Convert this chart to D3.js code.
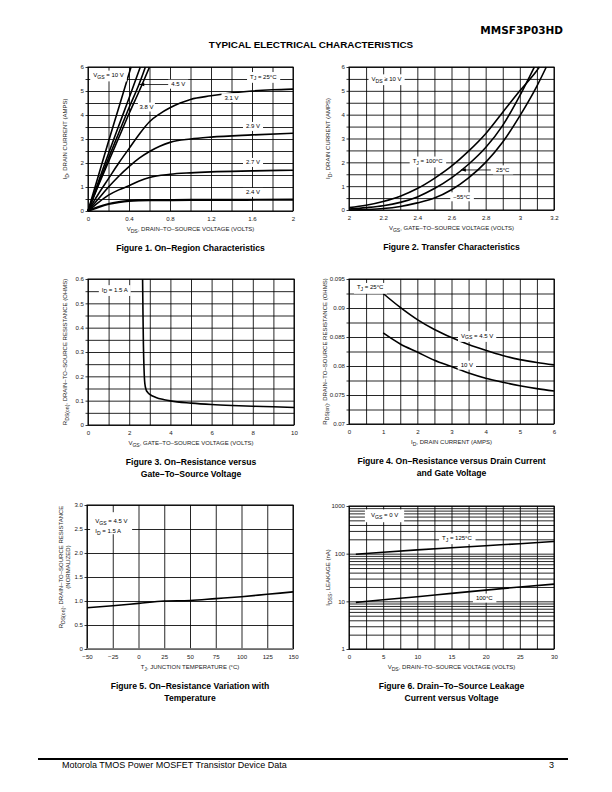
<!DOCTYPE html>
<html><head><meta charset="utf-8">
<script src="https://cdn.jsdelivr.net/npm/d3@7"></script>
<style>
html,body{margin:0;padding:0;background:#fff;}
svg{display:block;font-family:"Liberation Sans",Arial,Helvetica,sans-serif;}
</style></head><body>
<svg id="page" width="612" height="792"></svg>
<script>
// ================= DATA =================
// Figure 1 – On-Region Characteristics (VDS volts, ID amps)
const fig1XTicks = [0, 0.4, 0.8, 1.2, 1.6, 2];
const fig1XLabels = ["0", "0.4", "0.8", "1.2", "1.6", "2"];
const fig1YTicks = [0, 1, 2, 3, 4, 5, 6];
const fig1Vgs10 = [[0,0],[0.1,1.45],[0.2,2.9],[0.3,4.3],[0.42,6]];
const fig1Vgs6  = [[0,0],[0.1,1.2],[0.2,2.4],[0.3,3.55],[0.4,4.7],[0.51,6]];
const fig1Vgs45 = [[0,0],[0.1,1.1],[0.2,2.2],[0.3,3.25],[0.4,4.3],[0.5,5.3],[0.56,6]];
const fig1Vgs38 = [[0,0],[0.1,1.05],[0.2,2.05],[0.3,3.05],[0.4,4.05],[0.5,5.0],[0.6,6]];
const fig1Vgs31 = [[0,0],[0.1,0.7],[0.2,1.35],[0.3,2.0],[0.4,2.6],[0.5,3.2],[0.6,3.72],[0.7,4.05],[0.8,4.3],[0.9,4.5],[1.0,4.65],[1.2,4.8],[1.4,4.92],[1.6,5.0],[1.8,5.05],[2,5.08]];
const fig1Vgs29 = [[0,0],[0.1,0.5],[0.2,1.0],[0.3,1.45],[0.4,1.85],[0.5,2.2],[0.6,2.48],[0.7,2.7],[0.8,2.86],[1.0,3.0],[1.2,3.08],[1.6,3.17],[2,3.24]];
const fig1Vgs27 = [[0,0],[0.1,0.35],[0.2,0.66],[0.3,0.88],[0.4,1.05],[0.5,1.25],[0.6,1.4],[0.8,1.53],[1.0,1.59],[1.2,1.63],[1.6,1.67],[2,1.7]];
const fig1Vgs24 = [[0,0],[0.1,0.16],[0.2,0.29],[0.3,0.37],[0.4,0.42],[0.6,0.45],[1.0,0.46],[2,0.47]];

// Figure 2 – Transfer Characteristics (VGS volts, ID amps)
const fig2XTicks = [2, 2.2, 2.4, 2.6, 2.8, 3, 3.2];
const fig2XLabels = ["2", "2.2", "2.4", "2.6", "2.8", "3", "3.2"];
const fig2YTicks = [0, 1, 2, 3, 4, 5, 6];
const fig2T100 = [[2,0.1],[2.1,0.2],[2.2,0.36],[2.3,0.58],[2.4,0.9],[2.5,1.33],[2.6,1.84],[2.7,2.47],[2.8,3.2],[2.9,4.1],[3.0,5.0],[3.1,5.85],[3.115,6]];
const fig2T25  = [[2,0.04],[2.1,0.1],[2.2,0.18],[2.3,0.32],[2.4,0.55],[2.5,0.9],[2.6,1.35],[2.7,1.92],[2.8,2.62],[2.9,3.55],[3.0,4.8],[3.085,6]];
const fig2Tm55 = [[2,0],[2.1,0.02],[2.2,0.06],[2.3,0.15],[2.4,0.3],[2.5,0.5],[2.6,0.85],[2.7,1.35],[2.8,2.0],[2.9,2.85],[3.0,3.95],[3.1,5.2],[3.155,6]];

// Figure 3 – RDS(on) vs VGS (volts, ohms)
const fig3XTicks = [0, 2, 4, 6, 8, 10];
const fig3YTicks = [0, 0.1, 0.2, 0.3, 0.4, 0.5, 0.6];
const fig3YLabels = ["0", "0.1", "0.2", "0.3", "0.4", "0.5", "0.6"];
const fig3Rds = [[2.65,0.6],[2.67,0.45],[2.69,0.33],[2.72,0.23],[2.76,0.17],[2.82,0.145],[2.9,0.134],[3.0,0.126],[3.3,0.113],[3.7,0.104],[4,0.099],[5,0.09],[6,0.084],[7,0.08],[8,0.077],[9,0.075],[10,0.072]];

// Figure 4 – RDS(on) vs ID (amps, ohms)
const fig4XTicks = [0, 1, 2, 3, 4, 5, 6];
const fig4YTicks = [0.07, 0.075, 0.08, 0.085, 0.09, 0.095];
const fig4YLabels = ["0.07", "0.075", "0.08", "0.085", "0.09", "0.095"];
const fig4Vgs45 = [[1,0.0925],[1.5,0.0901],[2,0.088],[2.5,0.0863],[3,0.0849],[3.5,0.0837],[4,0.0827],[4.5,0.0818],[5,0.0811],[5.5,0.0806],[6,0.0802]];
const fig4Vgs10 = [[1,0.0857],[1.5,0.0838],[2,0.0824],[2.5,0.081],[3,0.0799],[3.5,0.0788],[4,0.0779],[4.5,0.0772],[5,0.0766],[5.5,0.0761],[6,0.0757]];

// Figure 5 – normalized RDS(on) vs TJ
const fig5XTicks = [-50, -25, 0, 25, 50, 75, 100, 125, 150];
const fig5XLabels = ["\u221250", "\u221225", "0", "25", "50", "75", "100", "125", "150"];
const fig5YTicks = [0, 0.5, 1, 1.5, 2, 2.5, 3];
const fig5YLabels = ["0", "0.5", "1.0", "1.5", "2.0", "2.5", "3.0"];
const fig5Temp = [-50, -25, 0, 25, 50, 75, 100, 125, 150];
const fig5Rnorm = [0.86, 0.9, 0.95, 1.0, 1.01, 1.05, 1.09, 1.14, 1.19];

// Figure 6 – IDSS leakage vs VDS (volts, nA, log)
const fig6XTicks = [0, 5, 10, 15, 20, 25, 30];
const fig6YTicks = [1, 10, 100, 1000];
const fig6Vds  = [1, 5, 10, 15, 20, 25, 30];
const fig6T125 = [97, 107, 120, 133, 147, 162, 180];
const fig6T100 = [9.5, 10.8, 12.5, 14.7, 17.2, 20, 23];

// ================= DRAWING =================
const svg = d3.select('#page');
const INK = '#000';

function rich(sel, parts, size) {
  let shifted = false;
  parts.forEach(pt => {
    const t = sel.append('tspan').text(pt[0]);
    if (pt[1] && !shifted) { t.attr('dy', size * 0.3).attr('font-size', size * 0.85); shifted = true; }
    else if (pt[1]) { t.attr('font-size', size * 0.85); }
    else if (!pt[1] && shifted) { t.attr('dy', -size * 0.3); shifted = false; }
  });
  return sel;
}

function boxedLabel(g, px, py, parts, opts = {}) {
  const size = opts.size || 6;
  const t = g.append('text').attr('x', px).attr('y', py)
    .attr('font-size', size).attr('fill', INK)
    .attr('text-anchor', opts.anchor || 'middle');
  rich(t, parts, size);
  const bb = t.node().getBBox();
  const padX = opts.padX != null ? opts.padX : 3, padY = opts.padY != null ? opts.padY : 1.5;
  g.insert('rect', () => t.node())
    .attr('x', bb.x - padX).attr('y', bb.y - padY)
    .attr('width', bb.width + 2 * padX).attr('height', bb.height + 2 * padY)
    .attr('fill', '#fff');
  return t;
}

function arrow(g, x1, y1, x2, y2) {
  g.append('line').attr('x1', x1).attr('y1', y1).attr('x2', x2).attr('y2', y2)
    .attr('stroke', INK).attr('stroke-width', 0.8);
  const a = Math.atan2(y2 - y1, x2 - x1), L = 5, W = 1.8;
  const p = [[x2, y2],
    [x2 - L * Math.cos(a) + W * Math.sin(a), y2 - L * Math.sin(a) - W * Math.cos(a)],
    [x2 - L * Math.cos(a) - W * Math.sin(a), y2 - L * Math.sin(a) + W * Math.cos(a)]];
  g.append('polygon').attr('points', p.map(d => d.join(',')).join(' ')).attr('fill', INK);
}

function panel(p) {
  const g = svg.append('g');
  const x = d3.scaleLinear().domain(p.xDomain).range([p.left, p.right]);
  const y = (p.ylog ? d3.scaleLog() : d3.scaleLinear()).domain(p.yDomain).range([p.bottom, p.top]);
  const H = p.bottom - p.top, W = p.right - p.left;
  const gx = g.append('g').attr('transform', `translate(0,${p.bottom})`)
    .call(d3.axisBottom(x).tickValues(p.xGrid).tickSize(-H).tickFormat(''));
  const gy = g.append('g').attr('transform', `translate(${p.left},0)`)
    .call(d3.axisLeft(y).tickValues(p.yGrid).tickSize(-W).tickFormat(''));
  [gx, gy].forEach(a => { a.select('.domain').remove(); a.selectAll('line').attr('stroke', INK).attr('stroke-width', 0.85); });
  const ty = g.append('g').attr('transform', `translate(${p.left},0)`)
    .call(d3.axisLeft(y).tickValues(p.yOuter || p.yGrid).tickSize(2.5).tickFormat(''));
  ty.select('.domain').remove(); ty.selectAll('line').attr('stroke', INK).attr('stroke-width', 0.8);
  g.append('rect').attr('x', p.left).attr('y', p.top).attr('width', W).attr('height', H)
    .attr('fill', 'none').attr('stroke', INK).attr('stroke-width', 1);
  const ax = g.append('g').attr('transform', `translate(0,${p.bottom})`)
    .call(d3.axisBottom(x).tickValues(p.xTicks).tickSize(0).tickPadding(6)
      .tickFormat((d, i) => p.xLabels ? p.xLabels[i] : String(d)));
  const ay = g.append('g').attr('transform', `translate(${p.left},0)`)
    .call(d3.axisLeft(y).tickValues(p.yTicks).tickSize(0).tickPadding(4)
      .tickFormat((d, i) => p.yLabels ? p.yLabels[i] : String(d)));
  [ax, ay].forEach(a => {
    a.select('.domain').remove();
    a.selectAll('text').attr('font-size', 6.1).attr('fill', '#222')
      .attr('font-family', '"Liberation Sans", Arial, sans-serif');
  });
  const xt = g.append('text').attr('x', (p.left + p.right) / 2).attr('y', p.bottom + 20)
    .attr('text-anchor', 'middle').attr('font-size', 6).attr('fill', '#222');
  rich(xt, p.xTitle, 6);
  (p.yTitles).forEach((yt, k) => {
    const cx = p.yTitleX[k], cy = (p.top + p.bottom) / 2 + (p.yTitleDy || 0);
    const t = g.append('text').attr('transform', `translate(${cx},${cy}) rotate(-90)`)
      .attr('text-anchor', 'middle').attr('font-size', 6).attr('fill', '#222');
    rich(t, yt, 6);
  });
  p.caption.forEach((c, k) => {
    g.append('text').attr('x', (p.left + p.right) / 2).attr('y', p.bottom + 40 + k * 11.5)
      .attr('text-anchor', 'middle').attr('font-size', 8.6).attr('font-weight', 'bold')
      .attr('fill', INK).text(c);
  });
  const curves = g.append('g');
  const labels = g.append('g');
  return { g, x, y, curves, labels };
}

function drawLine(P, pts, w) {
  const line = d3.line().x(d => P.x(d[0])).y(d => P.y(d[1])).curve(d3.curveMonotoneX);
  P.curves.append('path').attr('d', line(pts)).attr('fill', 'none')
    .attr('stroke', INK).attr('stroke-width', w || 1.6).attr('stroke-linejoin', 'round');
}

// header
svg.append('text').attr('x', 563).attr('y', 34).attr('text-anchor', 'end')
  .attr('font-family', '"DejaVu Sans", sans-serif').attr('font-weight', 'bold')
  .attr('font-size', 10.5).attr('fill', INK).text('MMSF3P03HD');
svg.append('text').attr('x', 311).attr('y', 48).attr('text-anchor', 'middle')
  .attr('font-weight', 'bold').attr('font-size', 9.9).attr('fill', INK)
  .text('TYPICAL ELECTRICAL CHARACTERISTICS');

// footer
svg.append('line').attr('x1', 38).attr('x2', 568).attr('y1', 759).attr('y2', 759)
  .attr('stroke', INK).attr('stroke-width', 1.8);
svg.append('text').attr('x', 62).attr('y', 768).attr('font-size', 9).attr('fill', INK)
  .text('Motorola TMOS Power MOSFET Transistor Device Data');
svg.append('text').attr('x', 554).attr('y', 768).attr('text-anchor', 'end').attr('font-size', 9).attr('fill', INK)
  .text('3');

const DASH = '\u2013';

// ---------- Figure 1
const P1 = panel({
  left: 88, right: 293, top: 67, bottom: 211,
  xDomain: [0, 2], yDomain: [0, 6],
  xGrid: d3.range(0, 2.0001, 0.2), yGrid: d3.range(0, 6.0001, 0.5),
  xTicks: fig1XTicks, xLabels: fig1XLabels, yTicks: fig1YTicks,
  xTitle: [['V'], ['DS', 1], [', DRAIN' + DASH + 'TO' + DASH + 'SOURCE VOLTAGE (VOLTS)']],
  yTitles: [[['I'], ['D', 1], [', DRAIN CURRENT (AMPS)']]], yTitleX: [67],
  caption: ['Figure 1. On' + DASH + 'Region Characteristics']
});
[fig1Vgs10, fig1Vgs6, fig1Vgs45, fig1Vgs38, fig1Vgs31, fig1Vgs29, fig1Vgs27].forEach(s => drawLine(P1, s));
drawLine(P1, fig1Vgs24, 2.2);
boxedLabel(P1.labels, P1.x(0.2), P1.y(5.58), [['V'], ['GS', 1], [' = 10 V']]);
boxedLabel(P1.labels, P1.x(1.71), P1.y(5.52), [['T'], ['J', 1], [' = 25\u00B0C']]);
arrow(P1.labels, P1.x(0.82), P1.y(5.27), P1.x(0.5), P1.y(5.27));
boxedLabel(P1.labels, P1.x(0.88), P1.y(5.2), [['4.5 V']]);
boxedLabel(P1.labels, P1.x(0.57), P1.y(4.25), [['3.8 V']], { padX: 1.5 });
boxedLabel(P1.labels, P1.x(1.4), P1.y(4.64), [['3.1 V']]);
boxedLabel(P1.labels, P1.x(1.61), P1.y(3.44), [['2.9 V']]);
boxedLabel(P1.labels, P1.x(1.61), P1.y(1.94), [['2.7 V']]);
boxedLabel(P1.labels, P1.x(1.61), P1.y(0.69), [['2.4 V']]);

// ---------- Figure 2
const P2 = panel({
  left: 349, right: 554, top: 67, bottom: 210,
  xDomain: [2, 3.2], yDomain: [0, 6],
  xGrid: d3.range(2, 3.2001, 0.1), yGrid: d3.range(0, 6.0001, 0.5),
  xTicks: fig2XTicks, xLabels: fig2XLabels, yTicks: fig2YTicks,
  xTitle: [['V'], ['GS', 1], [', GATE' + DASH + 'TO' + DASH + 'SOURCE VOLTAGE (VOLTS)']],
  yTitles: [[['I'], ['D', 1], [', DRAIN CURRENT (AMPS)']]], yTitleX: [330],
  caption: ['Figure 2. Transfer Characteristics']
});
[fig2T100, fig2T25, fig2Tm55].forEach(s => drawLine(P2, s));
boxedLabel(P2.labels, P2.x(2.22), P2.y(5.42), [['V'], ['DS', 1], [' \u2265 10 V']]);
boxedLabel(P2.labels, P2.x(2.46), P2.y(1.97), [['T'], ['J', 1], [' = 100\u00B0C']]);
arrow(P2.labels, P2.x(2.83), P2.y(1.68), P2.x(2.655), P2.y(1.68));
boxedLabel(P2.labels, P2.x(2.9), P2.y(1.6), [['25\u00B0C']]);
boxedLabel(P2.labels, P2.x(2.66), P2.y(0.47), [['\u221255\u00B0C']]);

// ---------- Figure 3
const P3 = panel({
  left: 88, right: 294, top: 279, bottom: 425,
  xDomain: [0, 10], yDomain: [0, 0.6],
  xGrid: d3.range(0, 10.001, 1), yGrid: d3.range(0, 0.6001, 0.05),
  xTicks: fig3XTicks, yTicks: fig3YTicks, yLabels: fig3YLabels,
  xTitle: [['V'], ['GS', 1], [', GATE' + DASH + 'TO' + DASH + 'SOURCE VOLTAGE (VOLTS)']],
  yTitles: [[['R'], ['DS(on)', 1], [', DRAIN' + DASH + 'TO' + DASH + 'SOURCE RESISTANCE (OHMS)']]], yTitleX: [67],
  caption: ['Figure 3. On' + DASH + 'Resistance versus', 'Gate' + DASH + 'To' + DASH + 'Source Voltage']
});
drawLine(P3, fig3Rds);
boxedLabel(P3.labels, P3.x(1.3), P3.y(0.548), [['I'], ['D', 1], [' = 1.5 A']]);

// ---------- Figure 4
const P4 = panel({
  left: 349, right: 554, top: 279, bottom: 424,
  xDomain: [0, 6], yDomain: [0.07, 0.095],
  xGrid: d3.range(0, 6.0001, 0.5), yGrid: d3.range(0.07, 0.09501, 0.0025),
  xTicks: fig4XTicks, yTicks: fig4YTicks, yLabels: fig4YLabels,
  xTitle: [['I'], ['D', 1], [', DRAIN CURRENT (AMPS)']],
  yTitles: [[['R'], ['DS(on)', 1], [', DRAIN' + DASH + 'TO' + DASH + 'SOURCE RESISTANCE (OHMS)']]], yTitleX: [327],
  caption: ['Figure 4. On' + DASH + 'Resistance versus Drain Current', 'and Gate Voltage']
});
drawLine(P4, fig4Vgs45);
drawLine(P4, fig4Vgs10);
boxedLabel(P4.labels, P4.x(0.62), P4.y(0.0932), [['T'], ['J', 1], [' = 25\u00B0C']]);
boxedLabel(P4.labels, P4.x(3.75), P4.y(0.0849), [['V'], ['GS', 1], [' = 4.5 V']]);
boxedLabel(P4.labels, P4.x(3.45), P4.y(0.0798), [['10 V']]);

// ---------- Figure 5
const P5 = panel({
  left: 87, right: 293, top: 505, bottom: 649,
  xDomain: [-50, 150], yDomain: [0, 3],
  xGrid: d3.range(-50, 150.001, 25), yGrid: d3.range(0, 3.0001, 0.5),
  xTicks: fig5XTicks, xLabels: fig5XLabels, yTicks: fig5YTicks, yLabels: fig5YLabels,
  xTitle: [['T'], ['J', 1], [', JUNCTION TEMPERATURE (\u00B0C)']],
  yTitles: [[['R'], ['DS(on)', 1], [', DRAIN' + DASH + 'TO' + DASH + 'SOURCE RESISTANCE']], [['(NORMALIZED)']]],
  yTitleX: [63, 70], yTitleDy: -10,
  caption: ['Figure 5. On' + DASH + 'Resistance Variation with', 'Temperature']
});
P5.curves.append('line').attr('x1', P5.x(-50)).attr('x2', P5.x(150)).attr('y1', P5.y(0)).attr('y2', P5.y(0))
  .attr('stroke', '#888').attr('stroke-width', 1.6);
drawLine(P5, fig5Temp.map((t, i) => [t, fig5Rnorm[i]]));
const l5 = P5.labels.append('g');
l5.append('rect').attr('x', P5.x(-47)).attr('y', P5.y(2.85)).attr('width', 42).attr('height', 22).attr('fill', '#fff');
rich(l5.append('text').attr('x', P5.x(-42)).attr('y', P5.y(2.62)).attr('font-size', 6), [['V'], ['GS', 1], [' = 4.5 V']], 6);
rich(l5.append('text').attr('x', P5.x(-42)).attr('y', P5.y(2.41)).attr('font-size', 6), [['I'], ['D', 1], [' = 1.5 A']], 6);

// ---------- Figure 6
const logGrid = [];
[1, 10, 100].forEach(dec => { for (let k = 1; k <= 9; k++) logGrid.push(dec * k); });
logGrid.push(1000);
const P6 = panel({
  left: 349, right: 554, top: 506, bottom: 649,
  xDomain: [0, 30], yDomain: [1, 1000], ylog: true,
  xGrid: d3.range(0, 30.001, 2.5), yGrid: logGrid, yOuter: fig6YTicks,
  xTicks: fig6XTicks, yTicks: fig6YTicks,
  xTitle: [['V'], ['DS', 1], [', DRAIN' + DASH + 'TO' + DASH + 'SOURCE VOLTAGE (VOLTS)']],
  yTitles: [[['I'], ['DSS', 1], [', LEAKAGE (nA)']]], yTitleX: [330],
  caption: ['Figure 6. Drain' + DASH + 'To' + DASH + 'Source Leakage', 'Current versus Voltage']
});
drawLine(P6, fig6Vds.map((v, i) => [v, fig6T125[i]]));
drawLine(P6, fig6Vds.map((v, i) => [v, fig6T100[i]]));
boxedLabel(P6.labels, P6.x(5.2), P6.y(590), [['V'], ['GS', 1], [' = 0 V']], { padX: 6, padY: 2.5 });
boxedLabel(P6.labels, P6.x(15.8), P6.y(195), [['T'], ['J', 1], [' = 125\u00B0C']]);
boxedLabel(P6.labels, P6.x(19.8), P6.y(10.6), [['100\u00B0C']]);
</script>
</body></html>
